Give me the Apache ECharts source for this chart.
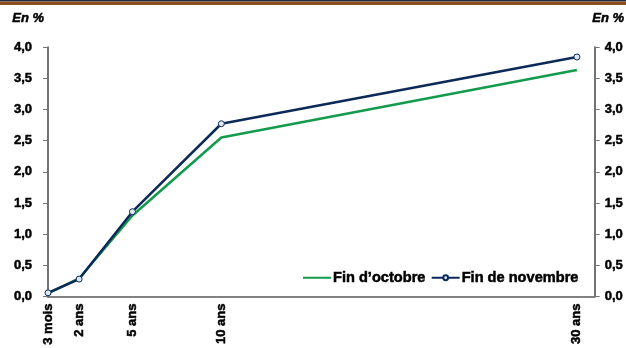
<!DOCTYPE html>
<html>
<head>
<meta charset="utf-8">
<script src="https://cdn.jsdelivr.net/npm/echarts@6/dist/echarts.min.js"></script>
<style>
  html, body { margin: 0; padding: 0; background: #fff; }
  #main { width: 626px; height: 348px; }
</style>
</head>
<body>
<div id="main"></div>
<script>
// maturites en annees (3 mois = 0.25)
const maturities = [0.25, 2, 5, 10, 30];
const maturityLabels = ['3 mois', '2 ans', '5 ans', '10 ans', '30 ans'];
const finOctobre = [0.05, 0.29, 1.30, 2.55, 3.63];
const finNovembre = [0.06, 0.28, 1.36, 2.77, 3.84];

const font = 'Arial';
const fmt = v => v.toFixed(1).replace('.', ',');
// le texte de la source est tres gras : on epaissit avec un contour
const heavy = { fontWeight: 'bold', fontFamily: font, color: '#000', textBorderColor: '#000', textBorderWidth: 0.5 };

const chart = echarts.init(document.getElementById('main'));

const yBase = {
    type: 'value',
    min: 0,
    max: 4,
    interval: 0.5,
    axisLine: { show: true, lineStyle: { color: '#444', width: 1.5 } },
    axisTick: { show: true, length: 5, lineStyle: { color: '#777' } },
    splitLine: { show: false },
    axisLabel: Object.assign({ formatter: fmt, fontSize: 13 }, heavy)
};

chart.setOption({
    animation: false,
    grid: { left: 48, right: 30, top: 47, bottom: 50 },
    graphic: [
        { type: 'rect', shape: { x: 0, y: 0, width: 626, height: 1.5 }, style: { fill: '#1d2a4a' } },
        { type: 'rect', shape: { x: 0, y: 1.5, width: 626, height: 3.5 }, style: { fill: '#87501c' } },
        { type: 'text', left: 12, top: 12, style: { text: 'En %', fontStyle: 'italic', fontWeight: 'bold', fontSize: 13, fontFamily: font, fill: '#000', stroke: '#000', lineWidth: 0.5 } },
        { type: 'text', left: 592, top: 12, style: { text: 'En %', fontStyle: 'italic', fontWeight: 'bold', fontSize: 13, fontFamily: font, fill: '#000', stroke: '#000', lineWidth: 0.5 } }
    ],
    legend: {
        left: 302,
        top: 268,
        itemWidth: 28,
        itemHeight: 6,
        itemGap: 5,
        backgroundColor: '#fff',
        padding: [2, 0, 2, 0],
        textStyle: Object.assign({ fontSize: 14.6, padding: [0, 0, 0, -3] }, heavy),
        data: [
            { name: 'Fin d\u2019octobre', itemStyle: { opacity: 0 } },
            { name: 'Fin de novembre' }
        ]
    },
    xAxis: [
        {
            type: 'value',
            min: 0.25,
            max: 31,
            axisLine: { show: true, lineStyle: { color: '#000', width: 1.5 } },
            axisTick: { show: false },
            splitLine: { show: false },
            axisLabel: Object.assign({
                customValues: maturities,
                rotate: 90,
                margin: 7,
                fontSize: 13,
                formatter: v => maturityLabels[maturities.indexOf(v)]
            }, heavy)
        },
        {
            type: 'value',
            position: 'top',
            min: 0.25,
            max: 31,
            axisLine: { show: true, lineStyle: { color: '#999', width: 1.5 } },
            axisTick: { show: false },
            axisLabel: { show: false },
            splitLine: { show: false }
        }
    ],
    yAxis: [
        Object.assign({}, yBase, { position: 'left', axisLabel: Object.assign({}, yBase.axisLabel, { margin: 16 }) }),
        Object.assign({}, yBase, { position: 'right', axisLabel: Object.assign({}, yBase.axisLabel, { margin: 10 }) })
    ],
    series: [
        {
            name: 'Fin d\u2019octobre',
            type: 'line',
            data: maturities.map((m, i) => [m, finOctobre[i]]),
            showSymbol: false,
            symbol: 'none',
            color: '#139a4c',
            lineStyle: { width: 2.5, color: '#139a4c' }
        },
        {
            name: 'Fin de novembre',
            type: 'line',
            data: maturities.map((m, i) => [m, finNovembre[i]]),
            symbol: 'circle',
            symbolSize: 6,
            color: '#0c2a57',
            itemStyle: { color: '#dfe8f5', borderColor: '#0c2a57', borderWidth: 1 },
            lineStyle: { width: 2.5, color: '#0c2a57' }
        }
    ]
});
</script>
</body>
</html>
